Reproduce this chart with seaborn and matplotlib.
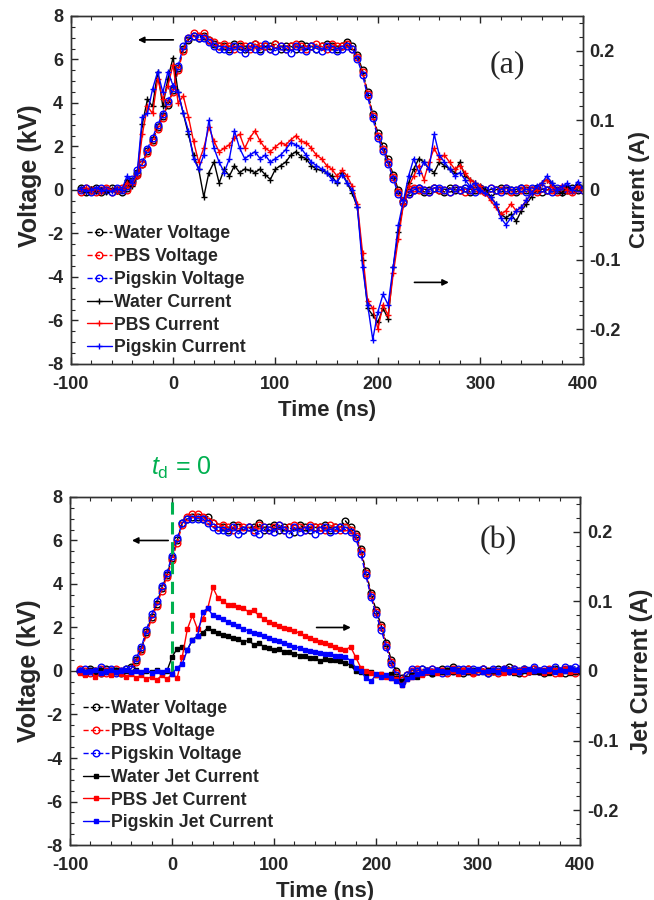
import numpy as np
import seaborn as sns
import matplotlib.pyplot as plt
from matplotlib.ticker import MultipleLocator

sns.set_style('ticks')
plt.rcParams['font.family'] = ['Liberation Sans', 'DejaVu Sans']
plt.rcParams['font.weight'] = 'bold'
plt.rcParams['axes.labelweight'] = 'bold'
plt.rcParams['axes.unicode_minus'] = False
plt.rcParams['mathtext.fontset'] = 'custom'
plt.rcParams['mathtext.it'] = 'Liberation Sans:style=italic:weight=normal'
plt.rcParams['mathtext.rm'] = 'Liberation Sans:weight=normal'

# sampling grid (ns), 5 ns step
t_ns = np.arange(-90, 401, 5)

# ---------------- panel (a) ----------------
water_v_a = [0.1, -0.1, 0.0, 0.1, -0.1, 0.0, 0.1, 0.0, -0.1,
             0.1, 0.4, 0.8, 1.2, 1.8, 2.3, 2.9, 3.4, 3.9, 4.6, 5.6, 6.5, 6.9, 7.1, 7.0, 7.1, 6.9, 6.7, 6.6,
             6.6, 6.5, 6.7, 6.6, 6.5, 6.6, 6.7, 6.5, 6.6, 6.6, 6.7, 6.5, 6.6, 6.6, 6.5, 6.7, 6.6, 6.6, 6.5, 6.6,
             6.7, 6.6, 6.5, 6.6, 6.8,
             6.6, 6.2, 5.5, 4.5, 3.5, 2.6, 2.0, 1.4, 0.7, 0.0, -0.5, -0.1,
             0.0, 0.1, -0.1, 0.0, 0.1, 0.0, -0.1, 0.1, 0.0, 0.0, 0.1, -0.1, 0.0, 0.1, 0.0, -0.1, 0.0, 0.1,
             0.0, 0.0, -0.1, 0.1, 0.0, 0.0, 0.1, -0.1, 0.0, 0.1, 0.0, -0.1, 0.0, 0.1, 0.0, 0.0]
pbs_v_a = [-0.1, 0.1, 0.0, -0.1, 0.0, 0.1, -0.1, 0.0, 0.1,
           0.0, 0.3, 0.7, 1.2, 1.7, 2.2, 2.8, 3.3, 4.0, 4.5, 5.5, 6.4, 7.0, 7.2, 7.1, 7.2, 6.9, 6.8, 6.6,
           6.7, 6.6, 6.5, 6.7, 6.6, 6.5, 6.7, 6.6, 6.6, 6.5, 6.7, 6.6, 6.5, 6.6, 6.7, 6.6, 6.5, 6.6, 6.7, 6.6,
           6.5, 6.7, 6.6, 6.6, 6.7,
           6.5, 6.1, 5.4, 4.4, 3.4, 2.5, 1.9, 1.3, 0.6, -0.1, -0.5, -0.2,
           0.1, 0.0, 0.0, -0.1, 0.1, 0.0, 0.0, -0.1, 0.1, 0.0, -0.1, 0.0, 0.1, 0.0, -0.1, 0.1, 0.0, 0.0,
           0.1, -0.1, 0.0, 0.0, 0.1, 0.0, -0.1, 0.1, 0.0, 0.0, -0.1, 0.1, 0.0, -0.1, 0.1, 0.0]
pig_v_a = [0.0, 0.1, -0.1, 0.0, 0.1, 0.0, -0.1, 0.1, 0.0,
           0.2, 0.5, 0.9, 1.3, 1.9, 2.4, 3.0, 3.5, 4.1, 4.7, 5.7, 6.6, 7.0, 7.1, 7.0, 7.0, 6.8, 6.6, 6.5,
           6.5, 6.4, 6.6, 6.5, 6.3, 6.6, 6.5, 6.4, 6.7, 6.5, 6.4, 6.6, 6.5, 6.3, 6.6, 6.5, 6.4, 6.6, 6.5, 6.4,
           6.6, 6.5, 6.4, 6.5, 6.6,
           6.5, 6.0, 5.3, 4.3, 3.3, 2.4, 1.8, 1.2, 0.5, -0.2, -0.6, -0.2,
           0.0, 0.1, 0.0, -0.1, 0.1, 0.1, 0.0, -0.1, 0.1, 0.0, 0.1, 0.0, -0.1, 0.1, 0.0, 0.1, 0.0, -0.1,
           0.1, 0.0, 0.0, 0.1, -0.1, 0.1, 0.0, 0.1, 0.0, -0.1, 0.1, 0.0, 0.1, 0.0, 0.1, 0.0]

water_i_a = [0.002, -0.003, 0.001, -0.002, 0.000, -0.003, 0.002, -0.001, 0.000, 0.015,
             0.005, 0.020, 0.095, 0.130, 0.120, 0.170, 0.120, 0.160, 0.190, 0.140,
             0.110, 0.080, 0.050, 0.030, -0.010, 0.025, 0.040, 0.010, 0.030, 0.020,
             0.035, 0.025, 0.030, 0.028, 0.025, 0.030, 0.022, 0.015, 0.030, 0.035,
             0.040, 0.050, 0.055, 0.048, 0.045, 0.035, 0.030, 0.028, 0.025, 0.020,
             0.010, 0.025, 0.010, -0.005, -0.025, -0.100, -0.170, -0.180, -0.190, -0.170,
             -0.185, -0.110, -0.060, -0.020, 0.010, 0.030, 0.045, 0.040, 0.030, 0.025,
             0.040, 0.035, 0.030, 0.025, 0.040, 0.020, 0.015, 0.010, 0.005, 0.000,
             -0.010, -0.020, -0.035, -0.040, -0.035, -0.045, -0.030, -0.020, -0.010, 0.000,
             0.010, 0.015, 0.010, 0.000, -0.005, 0.005, 0.000, 0.008, 0.005]
pbs_i_a = [0.000, 0.003, -0.002, 0.001, -0.003, 0.002, 0.000, -0.002, 0.001, 0.010,
           0.008, 0.020, 0.080, 0.120, 0.110, 0.160, 0.130, 0.150, 0.180, 0.125,
           0.135, 0.105, 0.070, 0.040, 0.060, 0.090, 0.070, 0.055, 0.060, 0.065,
           0.075, 0.080, 0.060, 0.075, 0.085, 0.070, 0.060, 0.055, 0.062, 0.068,
           0.065, 0.072, 0.078, 0.070, 0.068, 0.060, 0.050, 0.045, 0.035, 0.030,
           0.020, 0.028, 0.020, 0.005, -0.020, -0.090, -0.160, -0.170, -0.200, -0.165,
           -0.180, -0.120, -0.070, -0.020, 0.005, 0.020, 0.035, 0.015, 0.040, 0.060,
           0.045, 0.050, 0.040, 0.030, 0.035, 0.025, 0.015, 0.010, 0.005, -0.005,
           -0.015, -0.025, -0.035, -0.030, -0.020, -0.030, -0.025, -0.015, -0.005, 0.000,
           0.010, 0.015, 0.005, 0.000, 0.005, 0.000, -0.003, 0.005, 0.000]
pig_i_a = [0.002, -0.002, 0.000, 0.003, -0.001, 0.000, -0.002, 0.001, 0.000, 0.020,
           0.010, 0.025, 0.105, 0.110, 0.145, 0.170, 0.140, 0.170, 0.150, 0.140,
           0.110, 0.085, 0.045, 0.030, 0.050, 0.100, 0.060, 0.040, 0.025, 0.045,
           0.085, 0.060, 0.045, 0.050, 0.055, 0.045, 0.050, 0.040, 0.045, 0.050,
           0.058, 0.068, 0.065, 0.060, 0.050, 0.040, 0.035, 0.030, 0.025, 0.015,
           0.012, 0.022, 0.010, 0.000, -0.025, -0.110, -0.165, -0.215, -0.175, -0.150,
           -0.165, -0.110, -0.050, -0.015, 0.020, 0.045, 0.025, 0.040, 0.030, 0.080,
           0.050, 0.040, 0.030, 0.020, 0.025, 0.015, 0.005, 0.010, 0.000, -0.005,
           -0.010, -0.020, -0.040, -0.050, -0.040, -0.030, -0.025, -0.015, -0.005, 0.005,
           0.010, 0.020, 0.010, 0.000, 0.005, 0.010, 0.000, 0.012, 0.003]

# ---------------- panel (b) ----------------
water_v_b = [0.0, -0.1, 0.1, 0.0, -0.1, 0.1, 0.0, 0.0, -0.1, 0.1, 0.2,
             0.5, 1.0, 1.8, 2.5, 3.1, 3.8, 4.4, 5.2, 6.0, 6.8, 7.0, 7.1, 7.1, 7.0, 7.1, 6.8, 6.6,
             6.6, 6.5, 6.7, 6.6, 6.5, 6.6, 6.6, 6.8, 6.5, 6.6, 6.7, 6.5, 6.6, 6.6, 6.4, 6.7, 6.6, 6.5, 6.6,
             6.6, 6.7, 6.5, 6.6, 6.6, 6.9, 6.6,
             6.3, 5.6, 4.6, 3.6, 2.8, 2.1, 1.3, 0.5, 0.0, -0.3, -0.2,
             -0.1, 0.0, 0.1, 0.0, -0.1, 0.0, 0.1, 0.0, 0.2, 0.0, -0.1, 0.1, 0.0, 0.0, 0.1, -0.1, 0.0, 0.1,
             0.0, 0.2, 0.0, -0.1, 0.1, 0.0, 0.1, 0.0, -0.1, 0.0, 0.1, 0.0, -0.1, 0.1, 0.0, 0.0]
pbs_v_b = [0.1, 0.0, -0.1, 0.0, 0.1, -0.1, 0.0, 0.1, 0.0, -0.1, 0.1,
           0.4, 0.9, 1.7, 2.4, 3.0, 3.7, 4.3, 5.1, 5.9, 6.7, 7.1, 7.2, 7.2, 7.1, 6.9, 6.8, 6.6,
           6.7, 6.6, 6.5, 6.7, 6.6, 6.6, 6.5, 6.7, 6.6, 6.5, 6.6, 6.7, 6.5, 6.6, 6.7, 6.6, 6.5, 6.7, 6.6,
           6.6, 6.5, 6.7, 6.6, 6.5, 6.6, 6.5,
           6.2, 5.5, 4.5, 3.5, 2.7, 2.0, 1.2, 0.4, -0.1, -0.4, -0.2,
           0.0, 0.1, -0.1, 0.0, 0.1, 0.0, 0.0, -0.1, 0.1, 0.0, 0.0, 0.1, -0.1, 0.0, 0.1, 0.0, 0.0, -0.1,
           0.1, 0.0, 0.1, 0.0, -0.1, 0.0, 0.1, 0.0, 0.0, 0.1, -0.1, 0.0, 0.1, 0.0, -0.1, 0.1]
pig_v_b = [0.0, 0.1, 0.0, -0.1, 0.2, 0.0, 0.1, -0.1, 0.0, 0.1, 0.1,
           0.6, 1.1, 1.9, 2.6, 3.2, 3.9, 4.5, 5.3, 6.1, 6.8, 7.0, 7.0, 7.0, 7.0, 6.8, 6.6, 6.5,
           6.5, 6.4, 6.6, 6.3, 6.5, 6.6, 6.4, 6.3, 6.6, 6.5, 6.4, 6.7, 6.5, 6.3, 6.6, 6.4, 6.5, 6.6, 6.3,
           6.5, 6.6, 6.4, 6.5, 6.6, 6.5, 6.4,
           6.1, 5.4, 4.4, 3.4, 2.6, 1.9, 1.1, 0.3, -0.2, -0.5, -0.2,
           0.1, 0.0, 0.1, 0.0, 0.1, 0.0, -0.1, 0.1, 0.0, 0.1, 0.1, 0.0, 0.1, 0.0, 0.1, -0.1, 0.1, 0.0,
           0.1, 0.0, 0.1, 0.0, 0.1, 0.0, 0.2, 0.0, 0.1, 0.0, 0.2, 0.0, 0.2, 0.1, 0.2, 0.1]

water_i_b = [0.000, -0.003, 0.002, -0.002, 0.001, 0.000, -0.003, 0.002, -0.001, 0.000,
             -0.002, 0.001, -0.003, 0.000, -0.002, 0.001, -0.003, 0.000, 0.020, 0.032,
             0.035, 0.030, 0.045, 0.050, 0.055, 0.062, 0.058, 0.055, 0.052, 0.050,
             0.048, 0.046, 0.042, 0.044, 0.038, 0.040, 0.035, 0.033, 0.030, 0.031,
             0.028, 0.027, 0.025, 0.022, 0.022, 0.018, 0.018, 0.014, 0.017, 0.016,
             0.016, 0.014, 0.012, 0.008, 0.000, -0.002, -0.004, -0.002, -0.006, -0.004,
             -0.007, -0.005, -0.010, -0.015, -0.010, -0.006, -0.008, -0.004, -0.002, -0.004,
             0.000, -0.002, 0.002, -0.001, 0.000, 0.002, -0.002, 0.000, 0.001, -0.002,
             0.002, 0.000, -0.002, 0.001, 0.000, -0.003, -0.001, 0.000, 0.001, -0.002,
             -0.001, 0.000, -0.003, 0.001, -0.002, 0.000, -0.003, -0.001, 0.000]
pbs_i_b = [-0.003, -0.006, 0.000, -0.008, -0.004, 0.002, -0.006, -0.002, -0.005, -0.008,
           -0.004, -0.010, -0.006, -0.012, -0.008, -0.013, -0.006, -0.012, -0.004, -0.010,
           0.020, 0.060, 0.080, 0.060, 0.075, 0.090, 0.120, 0.105, 0.100, 0.095,
           0.095, 0.092, 0.090, 0.085, 0.087, 0.080, 0.075, 0.070, 0.068, 0.065,
           0.062, 0.060, 0.058, 0.054, 0.050, 0.048, 0.045, 0.042, 0.040, 0.037,
           0.035, 0.032, 0.030, 0.035, 0.020, 0.005, 0.000, -0.003, -0.006, -0.004,
           -0.008, -0.010, -0.012, -0.020, -0.012, -0.008, -0.004, -0.006, -0.002, 0.000,
           -0.003, 0.001, -0.002, 0.000, -0.004, 0.002, 0.000, -0.003, 0.001, 0.000,
           -0.002, 0.001, 0.000, -0.003, 0.002, -0.001, 0.000, 0.003, -0.002, 0.000,
           0.002, -0.003, 0.000, 0.001, -0.004, 0.003, -0.002, 0.000, 0.002]
pig_i_b = [0.001, -0.002, 0.000, 0.002, -0.003, 0.000, 0.001, -0.002, 0.000, 0.002,
           -0.001, 0.000, -0.002, 0.001, -0.003, 0.000, -0.002, 0.001, -0.005, 0.005,
           0.010, 0.030, 0.045, 0.050, 0.085, 0.090, 0.080, 0.078, 0.075, 0.070,
           0.068, 0.065, 0.060, 0.058, 0.055, 0.053, 0.050, 0.048, 0.045, 0.043,
           0.040, 0.038, 0.035, 0.033, 0.030, 0.029, 0.028, 0.026, 0.025, 0.024,
           0.022, 0.021, 0.020, 0.015, 0.005, 0.000, -0.010, -0.015, -0.005, -0.008,
           -0.006, -0.010, -0.014, -0.020, -0.012, -0.008, -0.005, -0.003, 0.000, -0.002,
           0.002, 0.000, -0.002, 0.003, 0.000, -0.001, 0.002, 0.000, 0.003, -0.001,
           0.000, 0.002, -0.001, 0.003, 0.000, 0.002, -0.002, 0.001, 0.003, 0.000,
           0.002, 0.000, 0.003, -0.001, 0.002, 0.000, 0.003, 0.001, 0.002]

colors = ['black', 'red', 'blue']
v_labels = ['Water Voltage', 'PBS Voltage', 'Pigskin Voltage']
i_labels_a = ['Water Current', 'PBS Current', 'Pigskin Current']
i_labels_b = ['Water Jet Current', 'PBS Jet Current', 'Pigskin Jet Current']

for arr in [water_v_a, pbs_v_a, pig_v_a, water_i_a, pbs_i_a, pig_i_a,
            water_v_b, pbs_v_b, pig_v_b, water_i_b, pbs_i_b, pig_i_b]:
    assert len(arr) == len(t_ns), len(arr)


def draw_panel(ax, volts, currs, i_labels, i_marker, i_ms, i_mfill, right_label,
               right_size, right_pad, leg_anchor):
    axr = ax.twinx()
    for v, lab, c in zip(volts, v_labels, colors):
        sns.lineplot(x=t_ns, y=v, ax=ax, color=c, linestyle='--', linewidth=1.0,
                     marker='o', markersize=4.8, markerfacecolor='none',
                     markeredgecolor=c, markeredgewidth=1.0,
                     estimator=None, sort=False, legend=False)
        ax.lines[-1].set_label(lab)
    for cur, lab, c in zip(currs, i_labels, colors):
        sns.lineplot(x=t_ns, y=cur, ax=axr, color=c, linestyle='-', linewidth=1.0,
                     marker=i_marker, markersize=i_ms,
                     markerfacecolor=c if i_mfill else 'none',
                     markeredgecolor=c, markeredgewidth=1.0,
                     estimator=None, sort=False, legend=False)
        axr.lines[-1].set_label(lab)

    ax.set_xlim(-100, 400)
    ax.set_ylim(-8, 8)
    axr.set_ylim(-0.25, 0.25)
    ax.xaxis.set_major_locator(MultipleLocator(100))
    ax.xaxis.set_minor_locator(MultipleLocator(20))
    ax.yaxis.set_minor_locator(MultipleLocator(0.5))
    axr.yaxis.set_minor_locator(MultipleLocator(0.02))
    axr.set_yticks([-0.2, -0.1, 0, 0.1, 0.2])
    axr.set_yticklabels(['-0.2', '-0.1', '0', '0.1', '0.2'])
    ax.set_yticks([-8, -6, -4, -2, 0, 2, 4, 6, 8])
    ax.set_yticklabels(['-8', '-6', '-4', '-2', '0', '2', '4', '6', '8'])

    ax.tick_params(axis='both', which='both', direction='in', top=True, labelsize=13)
    ax.tick_params(axis='x', which='major', pad=8.5)
    ax.tick_params(axis='y', which='major', pad=5.5)
    ax.tick_params(which='major', length=5, width=1)
    ax.tick_params(which='minor', length=3, width=0.8)
    axr.tick_params(axis='y', which='both', direction='in', labelsize=13)
    axr.tick_params(axis='y', which='major', length=5, width=1, pad=5)
    axr.tick_params(axis='y', which='minor', length=3, width=0.8)
    for lbl in ax.get_xticklabels() + ax.get_yticklabels() + axr.get_yticklabels():
        lbl.set_fontweight('bold')
    for a in (ax, axr):
        for sp in a.spines.values():
            sp.set_linewidth(1.0)
            sp.set_color('#333333')

    ax.set_xlabel('Time (ns)', fontsize=16, labelpad=5)
    ax.set_ylabel('Voltage (kV)', fontsize=18, labelpad=4)
    axr.set_ylabel(right_label, fontsize=right_size, labelpad=right_pad)

    handles = ax.lines[:3] + axr.lines[:3]
    labels = [h.get_label() for h in handles]
    axr.legend(handles, labels, loc='upper left', bbox_to_anchor=leg_anchor,
               frameon=False, fontsize=12.7, handlelength=1.45, handletextpad=0.1,
               labelspacing=0.33, borderpad=0, borderaxespad=0, numpoints=1)
    return axr


fig = plt.figure(figsize=(6.54, 9.0), dpi=100)
ax_a = fig.add_axes([0.108, 0.5956, 0.783, 0.3867])
ax_b = fig.add_axes([0.107, 0.0611, 0.780, 0.3867])

draw_panel(ax_a, [water_v_a, pbs_v_a, pig_v_a], [water_i_a, pbs_i_a, pig_i_a],
           i_labels_a, '+', 4.5, False, 'Current (A)', 16, 6, (0.031, 0.3985))
draw_panel(ax_b, [water_v_b, pbs_v_b, pig_v_b], [water_i_b, pbs_i_b, pig_i_b],
           i_labels_b, 's', 2.2, True, 'Jet Current (A)', 17, 8, (0.026, 0.416))

# the voltage label of panel (a) sits a little above the axes centre
ax_a.yaxis.set_label_coords(-0.056, 0.54)

arrow = dict(arrowstyle='-|>', color='black', lw=1.2, mutation_scale=9)
ax_a.annotate('', xy=(-37, 6.9), xytext=(3, 6.9), arrowprops=arrow)
ax_a.annotate('', xy=(272, -4.25), xytext=(233, -4.25), arrowprops=arrow)
ax_b.annotate('', xy=(-42, 6.0), xytext=(-1, 6.0), arrowprops=arrow)
ax_b.annotate('', xy=(178, 2.0), xytext=(139, 2.0), arrowprops=arrow)

ax_a.text(326, 5.75, '(a)', fontsize=23, family='Liberation Serif', fontweight='normal',
          ha='center', va='center')
ax_b.text(320, 6.0, '(b)', fontsize=23, family='Liberation Serif', fontweight='normal',
          ha='center', va='center')

# delay reference line
ax_b.plot([0, 0], [-0.1, 8], color='#00b050', linestyle=(0, (4, 2.5)), linewidth=2.2, zorder=5)
ax_b.text(9, 9.35, r'$t_{\rm d}$ = 0', color='#00b050', fontsize=18, fontweight='normal',
          ha='center', va='center', clip_on=False)

fig.savefig('out.png', dpi=100)
